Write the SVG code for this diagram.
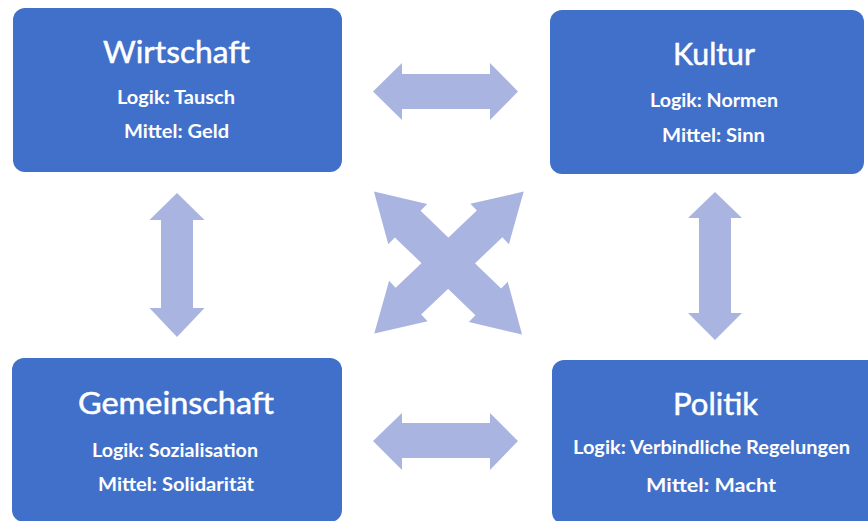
<svg xmlns="http://www.w3.org/2000/svg" width="868" height="521" viewBox="0 0 868 521">
<style>
.box{fill:#4170CA}
.arr{fill:#A9B5E0}
.t{font-family:Lato,"Liberation Sans",sans-serif;font-size:30px;fill:#fff;stroke:#fff;stroke-width:0.5;text-anchor:middle}
.s{font-family:Lato,"Liberation Sans",sans-serif;font-size:19px;font-weight:700;fill:#fff;text-anchor:middle}
</style>
<defs>
<path id="dbl" d="M-103 0 L-56 -28 L-56 -18.5 L56 -18.5 L56 -28 L103 0 L56 28 L56 18.5 L-56 18.5 L-56 28 Z"/>
</defs>
<rect width="868" height="521" fill="#fff"/>
<g id="connectors">
<path class="arr" d="M373 91.5 L402 63 L402 74 L490 74 L490 63 L518 91.5 L490 120 L490 109 L402 109 L402 120 Z"/>
<path class="arr" d="M373 441 L402 413 L402 423 L490 423 L490 413 L518 441 L490 470 L490 458 L402 458 L402 470 Z"/>
<path class="arr" d="M177 193 L204.5 220 L193 220 L193 308 L204.5 308 L177 337 L149.5 308 L161 308 L161 220 L149.5 220 Z"/>
<path class="arr" d="M715 192 L742 218 L731 218 L731 313 L742 313 L715 340 L688 313 L699 313 L699 218 L688 218 Z"/>
<use href="#dbl" class="arr" transform="translate(448 263) rotate(44)"/>
<use href="#dbl" class="arr" transform="translate(449 262.5) rotate(-43.5)"/>
</g>
<g id="wirtschaft">
<rect class="box" x="13" y="8" width="329" height="164" rx="12"/>
<text class="t" x="176.5" y="63" textLength="147" lengthAdjust="spacingAndGlyphs">Wirtschaft</text>
<text class="s" x="176" y="104" textLength="118" lengthAdjust="spacingAndGlyphs">Logik: Tausch</text>
<text class="s" x="176.5" y="138" textLength="105" lengthAdjust="spacingAndGlyphs">Mittel: Geld</text>
</g>
<g id="kultur">
<rect class="box" x="550" y="10" width="314" height="164" rx="12"/>
<text class="t" x="714" y="65" textLength="82" lengthAdjust="spacingAndGlyphs">Kultur</text>
<text class="s" x="714" y="106.5" textLength="128" lengthAdjust="spacingAndGlyphs">Logik: Normen</text>
<text class="s" x="713.5" y="141.5" textLength="103" lengthAdjust="spacingAndGlyphs">Mittel: Sinn</text>
</g>
<g id="gemeinschaft">
<rect class="box" x="12" y="358" width="330" height="164" rx="12"/>
<text class="t" x="176" y="414" textLength="196" lengthAdjust="spacingAndGlyphs">Gemeinschaft</text>
<text class="s" x="175" y="456.5" textLength="166" lengthAdjust="spacingAndGlyphs">Logik: Sozialisation</text>
<text class="s" x="176" y="490.5" textLength="156" lengthAdjust="spacingAndGlyphs">Mittel: Solidarität</text>
</g>
<g id="politik">
<rect class="box" x="552" y="360" width="330" height="164" rx="12"/>
<text class="t" x="715.5" y="415" textLength="85" lengthAdjust="spacingAndGlyphs">Politik</text>
<text class="s" x="711.5" y="454" textLength="277" lengthAdjust="spacingAndGlyphs">Logik: Verbindliche Regelungen</text>
<text class="s" x="711" y="492" textLength="130" lengthAdjust="spacingAndGlyphs">Mittel: Macht</text>
</g>
</svg>
